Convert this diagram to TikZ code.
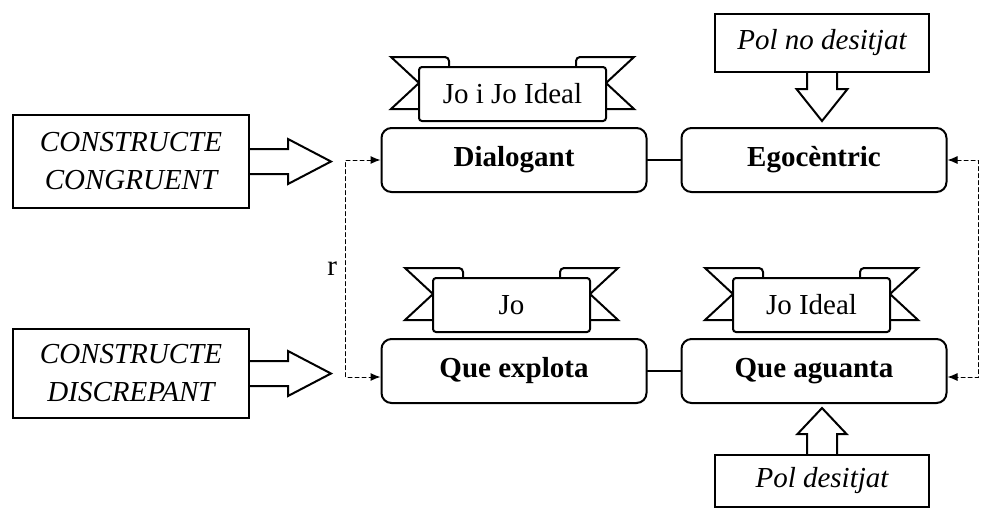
\documentclass[tikz,border=0pt]{standalone}
\usepackage{fontspec}
\setmainfont{Liberation Serif}
\usetikzlibrary{arrows.meta}

\tikzset{
  stage/.style={draw, line width=1pt, rounded corners=5pt, minimum width=132.5pt,
    minimum height=32pt, font=\fontsize{14.5}{17}\selectfont\bfseries},
  pole/.style={draw, line width=1pt, align=center, font=\fontsize{14.5}{19}\selectfont\itshape},
  blockarrow/.style={draw, line width=1pt, line join=miter},
  banner/.style={draw, line width=1pt, fill=white, rounded corners=1.5pt,
    minimum height=27pt, font=\fontsize{14.5}{17}\selectfont},
  dashlink/.style={line width=0.5pt, dash pattern=on 2pt off 1.5pt, <->},
  >={Latex[length=5pt,width=4pt]},
}

% ribbon: #1 name, (#2,#3) centre, #4 half width, #5 text
\newcommand{\drawribbon}[5]{%
  \draw[line width=1pt, fill=white] (#2-#4,#3-37) -- (#2-#4-28,#3-37) -- (#2-#4,#3-11) -- (#2-#4-28,#3+15) -- (#2-#4,#3+15);
  \draw[line width=1pt, fill=white] (#2+#4,#3-37) -- (#2+#4+28,#3-37) -- (#2+#4,#3-11) -- (#2+#4+28,#3+15) -- (#2+#4,#3+15);
  \draw[line width=1pt, rounded corners=2pt] (#2-#4,#3-37) -- (#2-#4+30,#3-37) -- (#2-#4+30,#3-24);
  \draw[line width=1pt, rounded corners=2pt] (#2+#4,#3-37) -- (#2+#4-30,#3-37) -- (#2+#4-30,#3-24);
  \node[banner, minimum width=#4pt] (#1) at (#2,#3) {#5};
}

\begin{document}
\begin{tikzpicture}[x=0.5pt, y=-0.5pt, line cap=round]
  \useasboundingbox (0,0) rectangle (985,511);

  % stages
  \node[stage] (dialog) at (514,160) {Dialogant};
  \node[stage] (ego) at (814,160) {Egocèntric};
  \node[stage] (explota) at (514,371) {Que explota};
  \node[stage] (aguanta) at (814,371) {Que aguanta};

  % constructs and poles
  \node[pole, minimum width=118pt, minimum height=46.5pt] (congr) at (131,161.5) {CONSTRUCTE\\CONGRUENT};
  \node[pole, minimum width=118pt, minimum height=44.5pt] (discr) at (131,373.5) {CONSTRUCTE\\DISCREPANT};
  \node[pole, minimum width=107pt, minimum height=29pt] (nodesit) at (822,43) {Pol no desitjat};
  \node[pole, minimum width=107pt, minimum height=26pt] (desit) at (822,481) {Pol desitjat};

  % block arrows
  \draw[blockarrow] (congr.east) ++(0,-12.5) -- ++(38,0) -- ++(0,-10) -- ++(43,22.5) -- ++(-43,22.5) -- ++(0,-10) -- ++(-38,0);
  \draw[blockarrow] (discr.east) ++(0,-12.5) -- ++(38,0) -- ++(0,-10) -- ++(43,22.5) -- ++(-43,22.5) -- ++(0,-10) -- ++(-38,0);
  \draw[blockarrow] (nodesit.south) ++(-15,0) -- ++(0,16) -- ++(-10.5,0) -- ++(25.5,32) -- ++(25.5,-32) -- ++(-10.5,0) -- ++(0,-16);
  \draw[blockarrow] (desit.north) ++(-15,0) -- ++(0,-20) -- ++(-9.5,0) -- ++(24.5,-26) -- ++(24.5,26) -- ++(-9.5,0) -- ++(0,20);

  % ribbons
  \drawribbon{joideal}{512.5}{94}{93.5}{Jo i Jo Ideal}
  \drawribbon{jo}{511.5}{305}{78.5}{Jo}
  \drawribbon{ideal}{811.5}{305}{78.5}{Jo Ideal}

  % links
  \draw[line width=1pt] (dialog.east) -- (ego.west);
  \draw[line width=1pt] (explota.east) -- (aguanta.west);
  \draw[dashlink] (dialog.west) -- ++(-35,0) |- ([yshift=-3pt]explota.west)
    node[pos=0.25, left, inner sep=4pt, font=\fontsize{14.5}{17}\selectfont] (rlab) {r};
  \draw[dashlink] (ego.east) -- ++(31,0) |- ([yshift=-3pt]aguanta.east);
\end{tikzpicture}
\end{document}
